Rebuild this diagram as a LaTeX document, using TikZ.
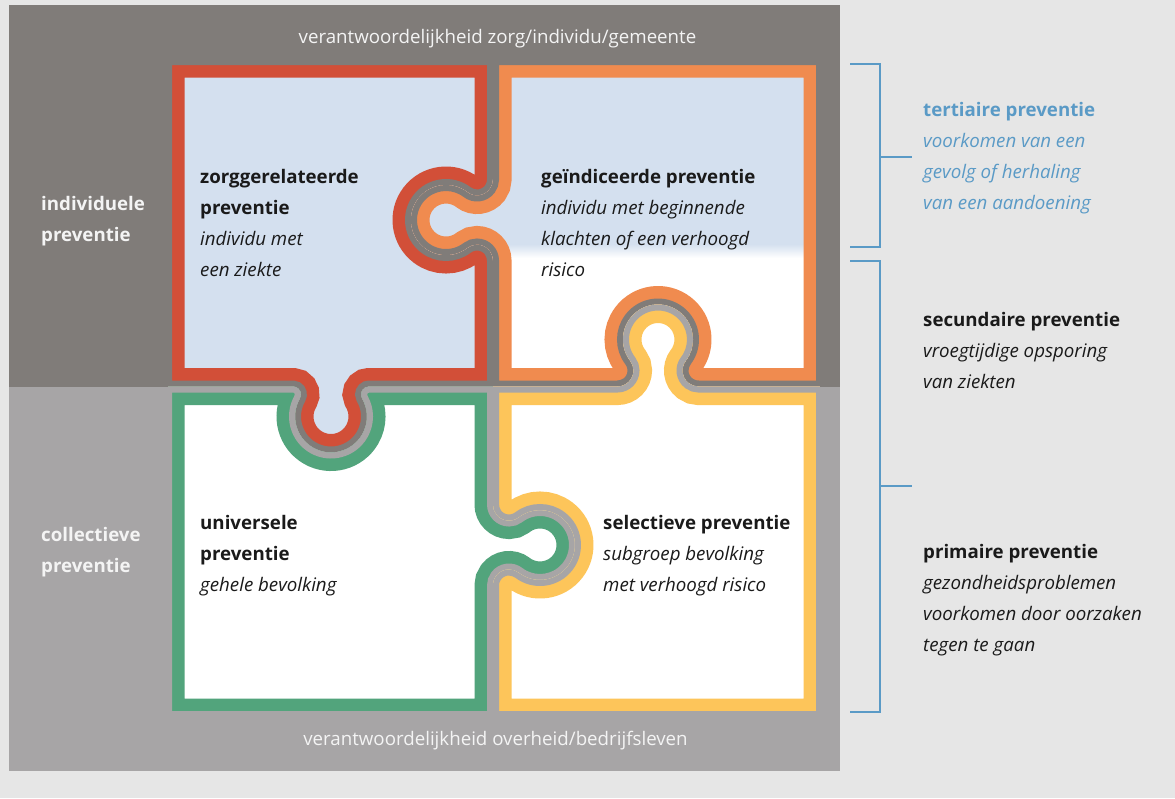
\documentclass[tikz,border=0pt]{standalone}
\usepackage{fontspec}
\setmainfont{Open Sans}
\begin{document}
\begin{tikzpicture}[x=1pt,y=-1pt]
\definecolor{pagebg}{HTML}{E6E6E6}
\definecolor{paneltop}{HTML}{807C79}
\definecolor{panelbot}{HTML}{A7A5A6}
\definecolor{pzred}{HTML}{D24F38}
\definecolor{pzorange}{HTML}{F08B4F}
\definecolor{pzgreen}{HTML}{52A47C}
\definecolor{pzyellow}{HTML}{FDC55A}
\definecolor{tintblue}{HTML}{D4E0EF}
\definecolor{accent}{HTML}{5A9AC6}
\definecolor{ink}{HTML}{1A1A1A}
\definecolor{paneltext}{HTML}{F4F4F4}
\tikzset{
  band/.style={line width=37pt},
  gapline/.style={line width=12pt},
  txt/.style={anchor=base west, inner sep=0pt, text=ink, font=\fontsize{18.7}{22}\selectfont},
  head/.style={txt, font=\fontsize{18.7}{22}\selectfont\bfseries},
  sub/.style={txt, font=\fontsize{18.7}{22}\selectfont\itshape},
  side/.style={head, text=paneltext},
  caption/.style={anchor=base, inner sep=0pt, text=paneltext, font=\fontsize{18.7}{22}\selectfont},
  bracket/.style={draw=accent, line width=2pt}
}
% page and the two halves of the panel
\fill[pagebg] (0,0) rectangle (1175,798);
\fill[paneltop] (8.5,5) rectangle (840,386.5);
\fill[panelbot] (8.5,386.5) rectangle (840,771);

% outlines of the four pieces, traced along the middle of the gaps
\def\redpath{(166,59) -- (493,59) -- (493,179.5)
  arc[start angle=0,end angle=127.43,radius=16]
  arc[start angle=307.43,end angle=52.57,radius=35]
  arc[start angle=232.57,end angle=360,radius=16]
  -- (493,386.5) -- (369.1,386.5)
  arc[start angle=270,end angle=150,radius=8]
  arc[start angle=-30,end angle=210,radius=36]
  arc[start angle=30,end angle=-90,radius=8]
  -- (166,386.5) -- cycle}
\def\orangepath{(493,59) -- (822,59) -- (822,386.5) -- (698.5,386.5)
  arc[start angle=90,end angle=217.43,radius=16]
  arc[start angle=37.43,end angle=-217.43,radius=35]
  arc[start angle=322.57,end angle=450,radius=16]
  -- (493,386.5) -- (493,260.5)
  arc[start angle=360,end angle=232.57,radius=16]
  arc[start angle=52.57,end angle=307.43,radius=35]
  arc[start angle=127.43,end angle=0,radius=16]
  -- cycle}
\def\yellowpath{(493,386.5) -- (617.5,386.5)
  arc[start angle=90,end angle=-37.43,radius=16]
  arc[start angle=-217.43,end angle=37.43,radius=35]
  arc[start angle=-142.57,end angle=-270,radius=16]
  -- (822,386.5) -- (822,717) -- (493,717) -- (493,585.5)
  arc[start angle=180,end angle=307.43,radius=16]
  arc[start angle=127.43,end angle=-127.43,radius=35]
  arc[start angle=52.57,end angle=180,radius=16]
  -- cycle}
\def\greenpath{(166,386.5) -- (292.9,386.5)
  arc[start angle=-90,end angle=30,radius=8]
  arc[start angle=210,end angle=-30,radius=36]
  arc[start angle=150,end angle=270,radius=8]
  -- (493,386.5) -- (493,504.5)
  arc[start angle=180,end angle=52.57,radius=16]
  arc[start angle=-127.43,end angle=127.43,radius=35]
  arc[start angle=-52.57,end angle=-180,radius=16]
  -- (493,717) -- (166,717) -- cycle}

% red piece
\begin{scope}
  \clip \redpath;
  \fill[tintblue] \redpath;
  \draw[pzred, band] \redpath;
  \draw[paneltop, gapline] \redpath;
\end{scope}
% orange piece, tinted in its upper part
\begin{scope}
  \clip \orangepath;
  \fill[white] \orangepath;
  \fill[tintblue] (380,50) rectangle (830,244);
  \shade[top color=tintblue, bottom color=white] (380,244) rectangle (830,258);
  \draw[pzorange, band] \orangepath;
  \draw[paneltop, gapline] \orangepath;
\end{scope}
% green piece
\begin{scope}
  \clip \greenpath;
  \fill[white] \greenpath;
  \draw[pzgreen, band] \greenpath;
  \draw[panelbot, gapline] \greenpath;
\end{scope}
% yellow piece
\begin{scope}
  \clip \yellowpath;
  \fill[white] \yellowpath;
  \draw[pzyellow, band] \yellowpath;
  \draw[panelbot, gapline] \yellowpath;
\end{scope}

% panel strips around the puzzle, covering the outer clip edges
\fill[paneltop] (8.5,5) rectangle (840,61);
\fill[paneltop] (8.5,5) rectangle (168,386.5);
\fill[paneltop] (820,5) rectangle (840,386.5);
\fill[panelbot] (8.5,386.5) rectangle (168,771);
\fill[panelbot] (820,386.5) rectangle (840,771);
\fill[panelbot] (8.5,715) rectangle (840,771);

% captions on the panel
\node[caption] (capTop) at (497.5,43) {verantwoordelijkheid zorg/individu/gemeente};
\node[caption] (capBot) at (495.5,745) {verantwoordelijkheid overheid/bedrijfsleven};
\node[side] (indA) at (41,210) {individuele};
\node[side] (indB) at (41,241) {preventie};
\node[side] (colA) at (41,541) {collectieve};
\node[side] (colB) at (41,572) {preventie};

% piece texts
\node[head] (zgA) at (200,183) {zorggerelateerde};
\node[head] (zgB) at (200,214) {preventie};
\node[sub]  (zgC) at (200,245) {individu met};
\node[sub]  (zgD) at (200,276) {een ziekte};

\node[head] (giA) at (541,183) {geïndiceerde preventie};
\node[sub]  (giB) at (541,214) {individu met beginnende};
\node[sub]  (giC) at (541,245) {klachten of een verhoogd};
\node[sub]  (giD) at (541,276) {risico};

\node[head] (unA) at (200,529) {universele};
\node[head] (unB) at (200,560) {preventie};
\node[sub]  (unC) at (200,591) {gehele bevolking};

\node[head] (seA) at (603,529) {selectieve preventie};
\node[sub]  (seB) at (603,560) {subgroep bevolking};
\node[sub]  (seC) at (603,591) {met verhoogd risico};

% brackets on the right
\coordinate (b1t) at (850,64);
\coordinate (b1b) at (850,246.5);
\coordinate (b1m) at (912,157);
\draw[bracket] (b1t) -- (880,64) -- (880,246.5) -- (b1b);
\draw[bracket] (880,157) -- (b1m);
\coordinate (b2t) at (850,261);
\coordinate (b2b) at (850,712);
\coordinate (b2m) at (912,486);
\draw[bracket] (b2t) -- (880,261) -- (880,712) -- (b2b);
\draw[bracket] (880,486) -- (b2m);

% levels of prevention
\node[head, text=accent] (teA) at (923,116.5) {tertiaire preventie};
\node[sub, text=accent]  (teB) at (923,147.5) {voorkomen van een};
\node[sub, text=accent]  (teC) at (923,178.5) {gevolg of herhaling};
\node[sub, text=accent]  (teD) at (923,209.5) {van een aandoening};

\node[head] (scA) at (923,326) {secundaire preventie};
\node[sub]  (scB) at (923,357) {vroegtijdige opsporing};
\node[sub]  (scC) at (923,388) {van ziekten};

\node[head] (prA) at (923,558) {primaire preventie};
\node[sub]  (prB) at (923,589) {gezondheidsproblemen};
\node[sub]  (prC) at (923,620) {voorkomen door oorzaken};
\node[sub]  (prD) at (923,651) {tegen te gaan};
\end{tikzpicture}
\end{document}
